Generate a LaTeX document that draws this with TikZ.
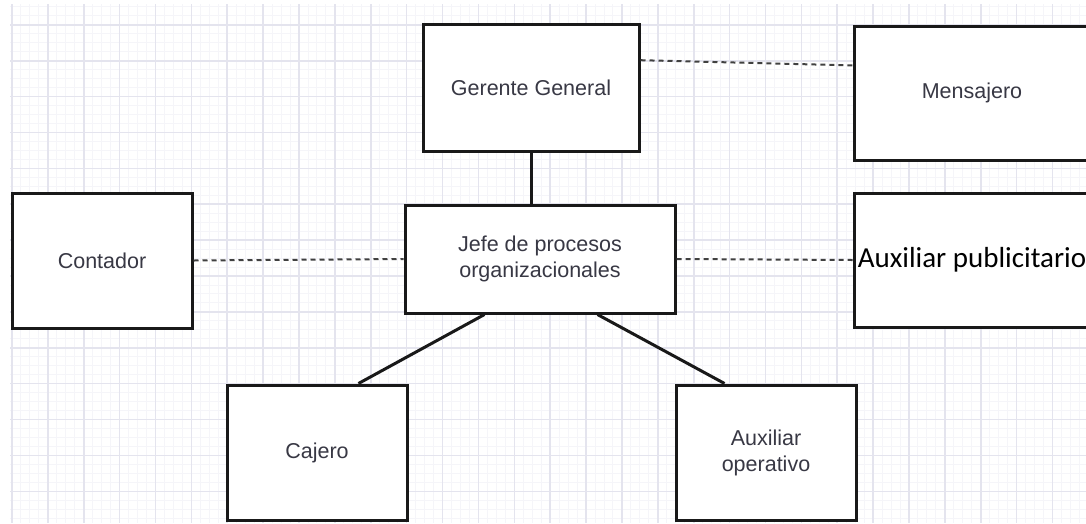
\documentclass[tikz,border=0pt]{standalone}
\usepackage{fontspec}
\setmainfont{Liberation Sans}
\newfontfamily\carlito{Carlito}

\definecolor{gridmajor}{RGB}{228,228,238}
\definecolor{gridminor}{RGB}{245,245,249}
\definecolor{labelgray}{RGB}{56,56,68}

\begin{document}
\begin{tikzpicture}[x=1pt, y=-1pt,
    box/.style={draw=black!90, line width=3pt, fill=white, text=labelgray, align=center,
      font=\fontsize{21.5}{26}\selectfont, inner sep=0pt},
    link/.style={line width=3pt, draw=black!90},
    aside/.style={line width=2pt, dash pattern=on 5pt off 4pt, draw=black!75}]
      \useasboundingbox (0,0) rectangle (1086,523);
      \clip (0,0) rectangle (1086,523);
      \fill[white] (0,0) rectangle (1086,523);

      % background grid
      \begin{scope}
        \clip (10,4) rectangle (1086,523);
        \foreach \x in {12,20.97,...,1086} \draw[gridminor, line width=1pt] (\x,0) -- (\x,523);
        \foreach \y in {-11,-2.03,...,523} \draw[gridminor, line width=1pt] (0,\y) -- (1086,\y);
        \foreach \x in {12,47.88,...,1086} \draw[gridmajor, line width=1.6pt] (\x,0) -- (\x,523);
        \foreach \y in {-11,24.88,...,523} \draw[gridmajor, line width=1.6pt] (0,\y) -- (1086,\y);
      \end{scope}

      \node[box, minimum width=216, minimum height=127] (gerente) at (531, 87.5) {Gerente General};
      \node[box, minimum width=236, minimum height=134] (mensajero) at (972, 93) {Mensajero};
      \node[box, minimum width=180, minimum height=135] (contador) at (102, 260.5) {Contador};
      \node[box, minimum width=270, minimum height=108] (jefe) at (540, 259) {Jefe de procesos\\organizacionales};
      \node[box, minimum width=236, minimum height=134, text=black,
            font=\carlito\fontsize{29}{34}\selectfont] (auxpub) at (972, 260) {Auxiliar publicitario};
      \node[box, minimum width=180, minimum height=135] (cajero) at (317, 452.5) {Cajero};
      \node[box, minimum width=180, minimum height=135] (auxop) at (766, 452.5) {Auxiliar\\operativo};

      \draw[link] (gerente.south) -- (gerente.south |- jefe.north);
      \draw[link] (jefe.225) -- (cajero.59);
      \draw[link] (jefe.316) -- (auxop.121);

      \draw[aside] (gerente.14) -- (mensajero.167);
      \draw[aside] (contador.east) -- (jefe.west);
      \draw[aside] (jefe.east) -- (auxpub.west);
    \end{tikzpicture}
\end{document}
